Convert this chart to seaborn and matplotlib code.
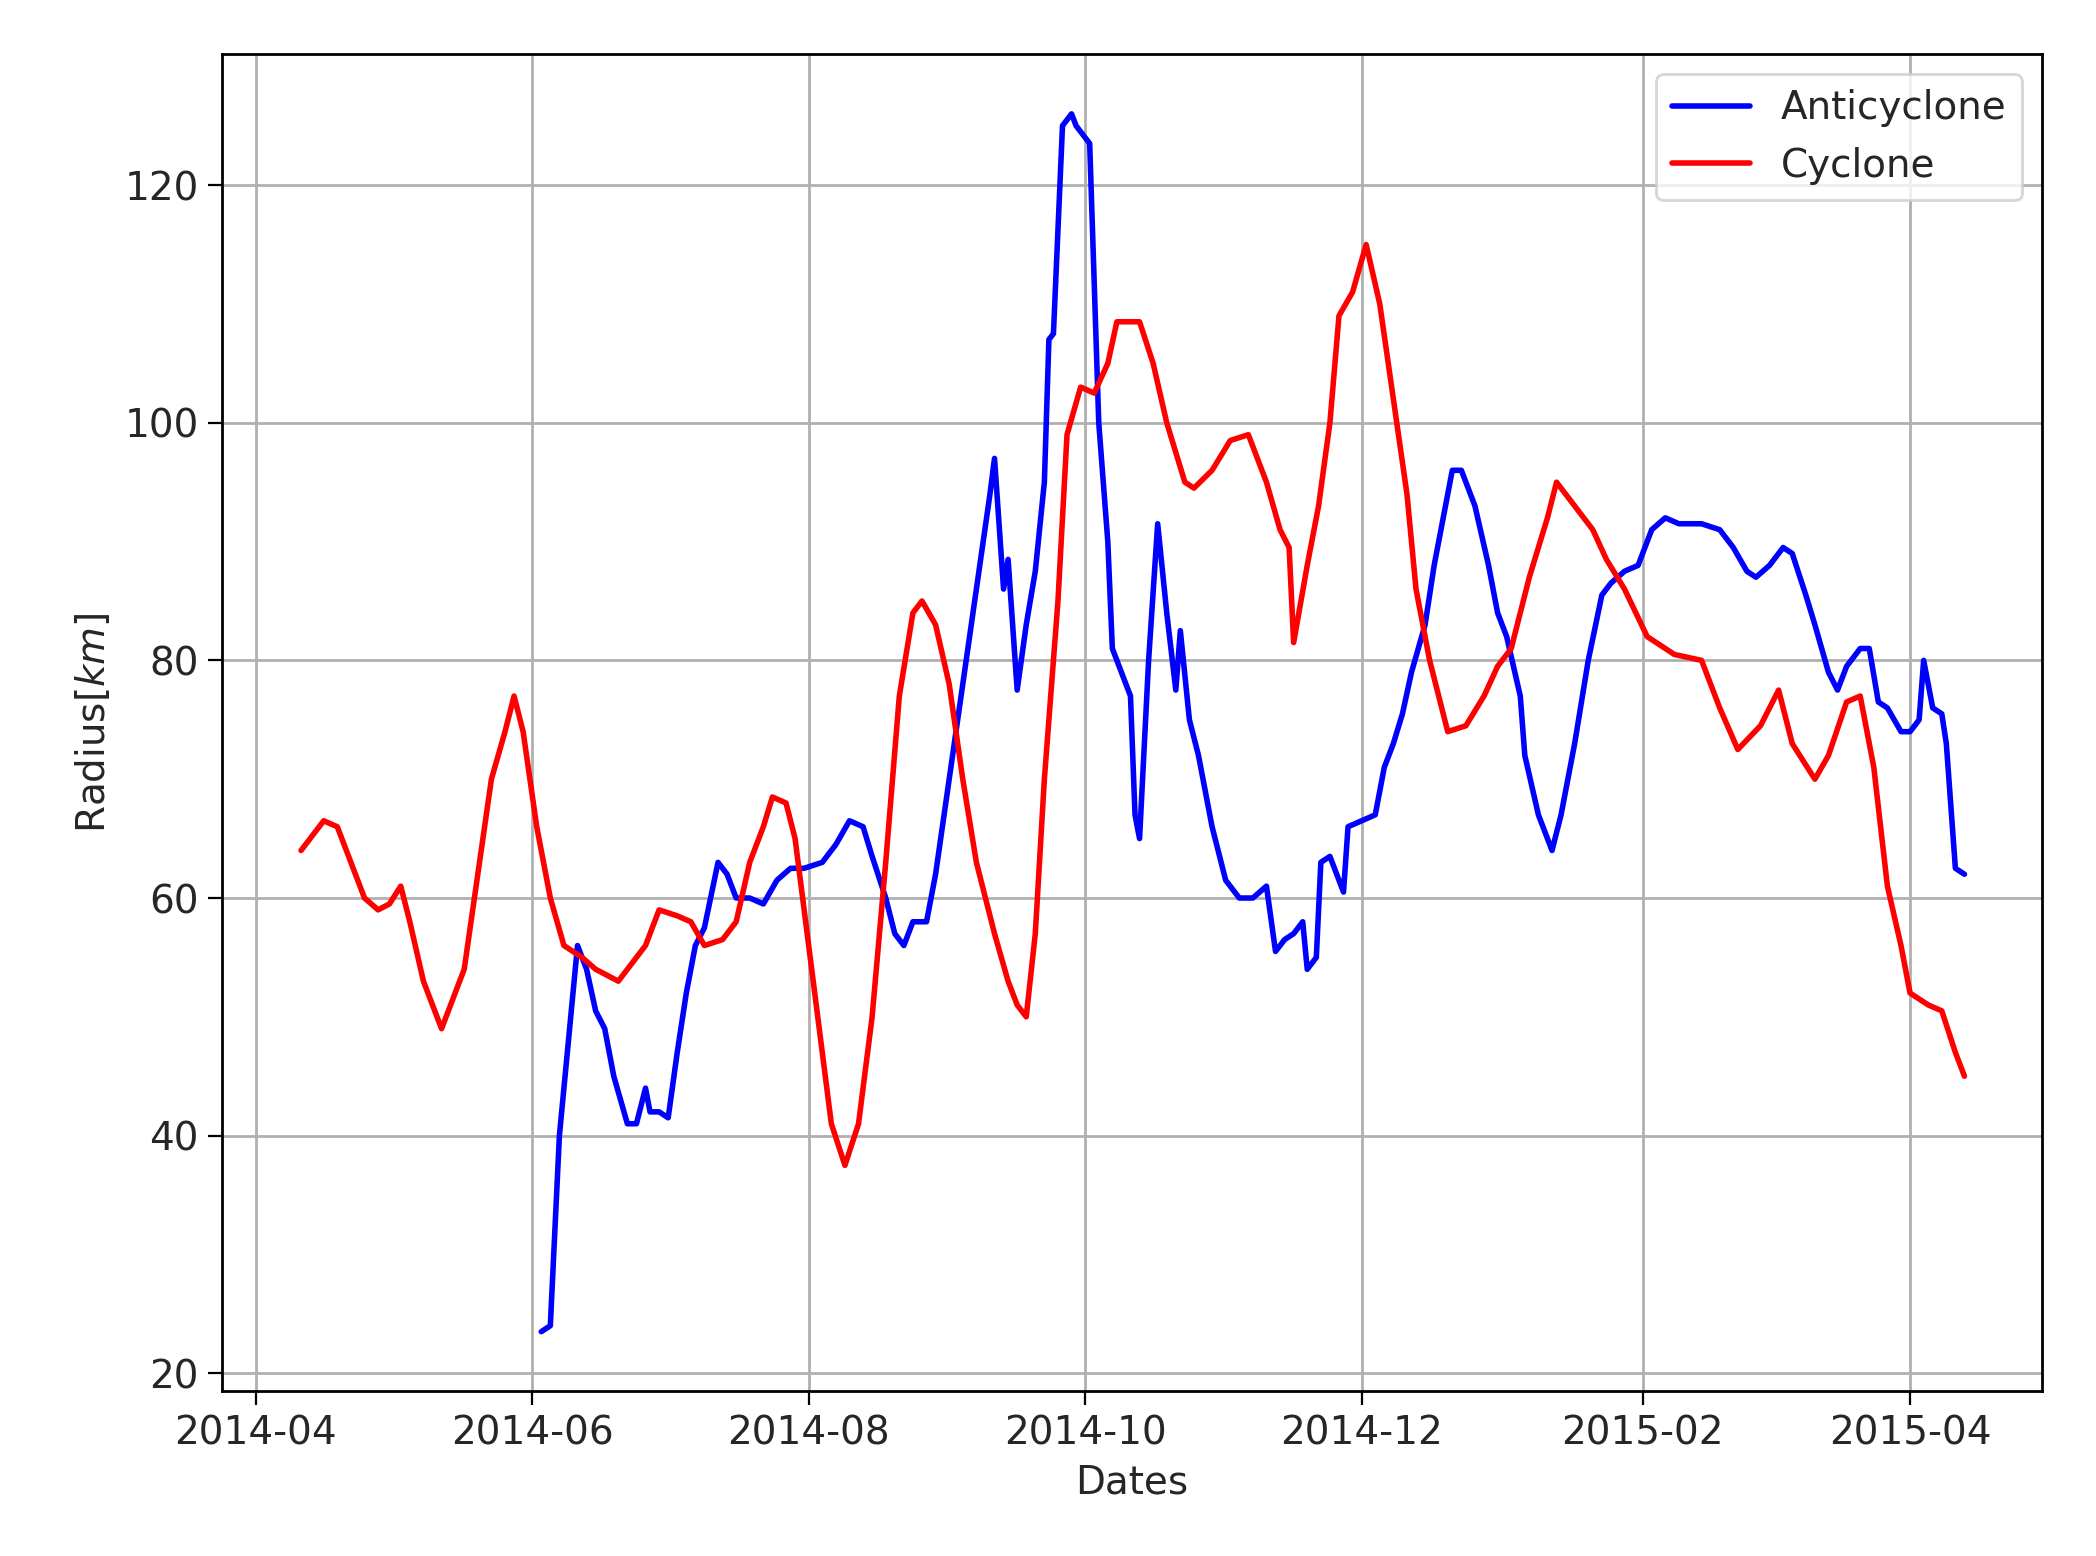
import numpy as np
import pandas as pd
import matplotlib
matplotlib.use("Agg")
import matplotlib.pyplot as plt
import matplotlib.dates as mdates
import seaborn as sns

start = pd.Timestamp("2014-04-01")
# days since 2014-04-01
cyc_days = [10,15,18,21,24,27,29.5,32,34,37,41,46,49,52,55,57,59,62,65,68,72,75,80,83,86,89,93,96,99,103,106,109,112,114,117,119,121,124,127,130,133,136,139,142,145,147,150,153,156,159,163,166,168,170,172,174,177,179,182,185,188,190,195,198,201,205,207,211,215,219,223,226,228,229,232,234.5,237,239,242,245,248,251,254,256,259,263,267,271,274,277,281,285,287,291,295,298,302,307,313,319,323,327,332,336,339,344,347,351,354,357,360,363,365,369,372,375,377]
cyc_vals = [64,66.5,66,63,60,59,59.5,61,58,53,49,54,62,70,74,77,74,66,60,56,55,54,53,54.5,56,59,58.5,58,56,56.5,58,63,66,68.5,68,65,59,50,41,37.5,41,50,63,77,84,85,83,78,70,63,57,53,51,50,57,70,85,99,103,102.5,105,108.5,108.5,105,100,95,94.5,96,98.5,99,95,91,89.5,81.5,88,93,100,109,111,115,110,102,94,86,80,74,74.5,77,79.5,81,87,92,95,93,91,88.5,86,82,80.5,80,76,72.5,74.5,77.5,73,70,72,76.5,77,71,61,56,52,51,50.5,47,45]
anti_days = [63,65,67,69,71,73,75,77,79,82,84,86,87,89,91,93,95,97,99,102,104,106,109,112,115,118,121,125,128,131,134,136,139,141,143,145,148,150,153,156,159,162,163,165,166,168,170,172,174,175,176,178,180,181,184,186,188,189,191,193,194,195,197,199,201,203,204,206,208,211,214,217,220,223,225,227,229,231,232,234,235,237,240,241,244,247,249,251,253,255,258,260,262,264,266,269,272,274,276,279,280,283,286,288,291,294,297,299,302,305,308,311,314,319,323,326,329,331,334,337,339,342,344,347,349,351,354,356,358,360,363,365,367,368,370,372,373,375,377]
anti_vals = [23.5,24,40,48,56,54,50.5,49,45,41,41,44,42,42,41.5,47,52,56,57.5,63,62,60,60,59.5,61.5,62.5,62.5,63,64.5,66.5,66,63.5,60,57,56,58,58,62,70,78,86,94,97,86,88.5,77.5,83,87.5,95,107,107.5,125,126,125,123.5,100,90,81,79,77,67,65,80,91.5,84,77.5,82.5,75,72,66,61.5,60,60,61,55.5,56.5,57,58,54,55,63,63.5,60.5,66,66.5,67,71,73,75.5,79,83,88,92,96,96,93,88,84,82,77,72,67,64,67,73,80,85.5,86.5,87.5,88,91,92,91.5,91.5,91,89.5,87.5,87,88,89.5,89,85.5,83,79,77.5,79.5,81,81,76.5,76,74,74,75,80,76,75.5,73,62.5,62]

df_a = pd.DataFrame({"Dates": start + pd.to_timedelta(anti_days, unit="D"), "r": anti_vals})
df_c = pd.DataFrame({"Dates": start + pd.to_timedelta(cyc_days, unit="D"), "r": cyc_vals})

sns.set_style("ticks")
plt.rcParams["font.family"] = ["DejaVu Sans"]
fig = plt.figure(figsize=(10.48, 7.78), dpi=200)
ax = fig.add_axes([0.106, 0.106, 0.868, 0.859])
sns.lineplot(data=df_a, x="Dates", y="r", color="blue", lw=2, label="Anticyclone", ax=ax)
sns.lineplot(data=df_c, x="Dates", y="r", color="red", lw=2, label="Cyclone", ax=ax)
ax.set_ylim(18.5, 131)
ax.set_xlim(start - pd.Timedelta(days=7.4), start + pd.Timedelta(days=394))
ax.set_yticks([20, 40, 60, 80, 100, 120])
ax.xaxis.set_major_locator(mdates.MonthLocator(bymonth=[2,4,6,8,10,12]))
ax.xaxis.set_major_formatter(mdates.DateFormatter("%Y-%m"))
ax.grid(True, color="#b0b0b0", lw=1)
for s in ax.spines.values():
    s.set_color("black"); s.set_linewidth(1)
ax.tick_params(labelsize=14, color="black", direction="out", length=5)
ax.set_xlabel("Dates", fontsize=14)
ax.set_ylabel("Radius$[km]$", fontsize=14)
ax.legend(loc="upper right", fontsize=14)
fig.savefig("out.png", dpi=200)
